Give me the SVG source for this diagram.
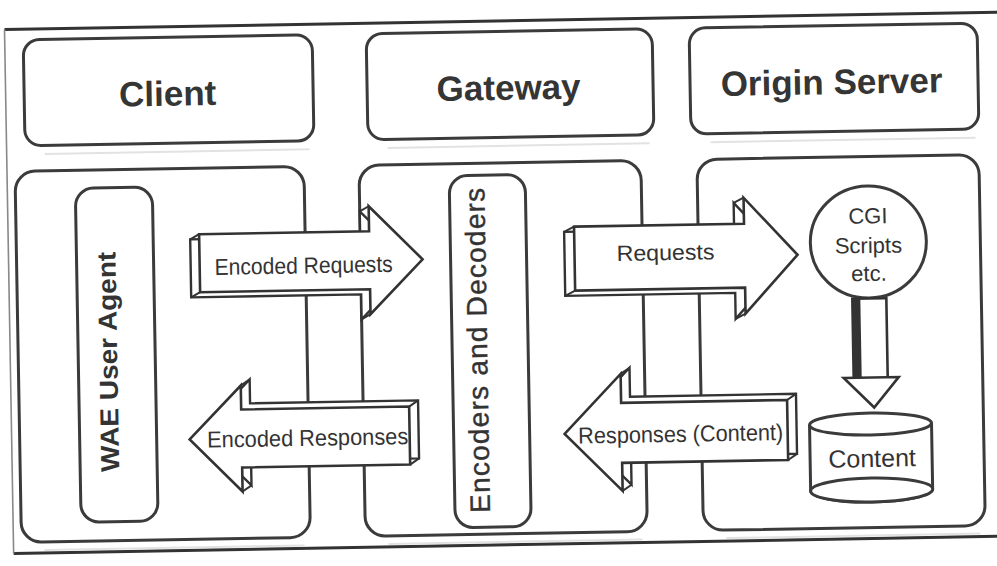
<svg xmlns="http://www.w3.org/2000/svg" width="997" height="566" viewBox="0 0 997 566">
  <defs>
    <style>
      .box{fill:#fff;stroke:#3b3b3b;stroke-width:3}
      .shade{fill:none;stroke:#e2e2e2;stroke-width:2}
      .title{font-family:"Liberation Sans",Arial,Helvetica,sans-serif;font-weight:bold;font-size:35px;fill:#353535;text-anchor:middle}
      .vbold{font-family:"Liberation Sans",Arial,Helvetica,sans-serif;font-weight:bold;font-size:26px;fill:#333;text-anchor:middle}
      .vreg{font-family:"Liberation Sans",Arial,Helvetica,sans-serif;font-size:28px;fill:#333;text-anchor:middle;stroke:#333;stroke-width:0.4}
      .lbl{font-family:"Liberation Sans",Arial,Helvetica,sans-serif;font-size:23px;fill:#333;text-anchor:middle}
      .arrow{fill:#fff;stroke:#333;stroke-width:2.6;stroke-linejoin:miter}
      .depth{fill:#fff;stroke:#333;stroke-width:2.4;stroke-linejoin:miter}
      .edge{fill:none;stroke:#333;stroke-width:2}
    </style>
  </defs>

  <rect width="997" height="566" fill="#fff"/>

  <g transform="rotate(-1 498 283)">
    <!-- outer frame -->
    <g id="frame">
      <path d="M9 21 H1012" fill="none" stroke="#333" stroke-width="3"/>
      <path d="M9 545 H1012" fill="none" stroke="#333" stroke-width="3"/>
      <path d="M9 21 V545" fill="none" stroke="#888" stroke-width="1.6"/>
    </g>

    <!-- header boxes -->
    <g id="client">
      <path class="shade" d="M47 146 H312"/>
      <rect class="box" x="27.5" y="31.5" width="289" height="106" rx="16"/>
      <text class="title" x="171" y="100">Client</text>
    </g>
    <g id="gateway">
      <path class="shade" d="M390 146 H652"/>
      <rect class="box" x="370.5" y="31.5" width="286" height="106" rx="16"/>
      <text class="title" x="512" y="100">Gateway</text>
    </g>
    <g id="origin-server">
      <path class="shade" d="M713 146 H978"/>
      <rect class="box" x="693.5" y="31.5" width="288" height="106" rx="16"/>
      <text class="title" x="835" y="100">Origin Server</text>
    </g>

    <!-- lower panels -->
    <g id="client-panel">
      <path class="shade" d="M40 542 H300"/>
      <rect class="box" x="17" y="163" width="289" height="371" rx="20"/>
    </g>
    <g id="gateway-panel">
      <path class="shade" d="M384 542 H638"/>
      <rect class="box" x="361" y="163" width="282" height="371" rx="20"/>
    </g>
    <g id="origin-panel">
      <path class="shade" d="M722 542 H976"/>
      <rect class="box" x="699" y="163" width="282" height="371" rx="20"/>
    </g>

    <!-- inner components -->
    <g id="wae-user-agent">
      <rect class="box" x="77" y="181" width="77" height="334" rx="18"/>
      <text class="vbold" transform="translate(107 355) rotate(-90)" y="9" textLength="220" lengthAdjust="spacingAndGlyphs">WAE User Agent</text>
    </g>
    <g id="encoders-decoders">
      <rect class="box" x="451" y="175" width="76" height="352" rx="18"/>
      <text class="vreg" transform="translate(476 350) rotate(-90)" y="10" textLength="325" lengthAdjust="spacing">Encoders and Decoders</text>
    </g>
    <g id="cgi-scripts">
      <ellipse class="box" cx="869" cy="248.5" rx="58" ry="56"/>
      <text class="lbl" style="font-size:22px" x="869" y="230">CGI</text>
      <text class="lbl" style="font-size:22px" x="869" y="259.5">Scripts</text>
      <text class="lbl" style="font-size:22px" x="869" y="287.5">etc.</text>
    </g>
    <g id="content">
      <path class="box" d="M807 430.5 V496.5 A61 12 0 0 0 929 496.5 V430.5"/>
      <ellipse class="box" cx="868" cy="496.5" rx="61" ry="12"/>
      <ellipse class="box" cx="868" cy="430.5" rx="61" ry="11"/>
      <text class="lbl" style="font-size:25px" x="869" y="473.5">Content</text>
    </g>

    <!-- connectors: block arrows -->
    <g id="connectors">
      <g id="arrow-encoded-requests">
        <polygon class="depth" points="191,234 361,234 361,209 414,263 361,317 361,292 191,292"/>
        <path class="edge" d="M200 229 L191 234 M200 287 L191 292 M370 204 L361 209 M370 312 L361 317"/>
        <polygon class="arrow" points="200,229 370,229 370,204 423,258 370,312 370,287 200,287"/>
        <text class="lbl" x="304" y="270" textLength="178" lengthAdjust="spacingAndGlyphs">Encoded Requests</text>
      </g>
      <g id="arrow-requests">
        <polygon class="depth" points="565,233 735,233 735,207 788,265 735,323 735,297 565,297"/>
        <path class="edge" d="M575 228 L565 233 M575 292 L565 297 M745 202 L735 207 M745 318 L735 323"/>
        <polygon class="arrow" points="575,228 745,228 745,202 798,260 745,318 745,292 575,292"/>
        <text class="lbl" style="font-size:22px" x="666" y="263" textLength="98" lengthAdjust="spacingAndGlyphs">Requests</text>
      </g>
      <g id="arrow-encoded-responses">
        <polygon class="depth" points="196,428 248,375 248,399 416,399 416,457 248,457 248,481"/>
        <path class="edge" d="M239 381 L248 375 M407 405 L416 399 M407 463 L416 457 M239 487 L248 481"/>
        <polygon class="arrow" points="187,434 239,381 239,405 407,405 407,463 239,463 239,487"/>
        <text class="lbl" x="305" y="442.5" textLength="201" lengthAdjust="spacingAndGlyphs">Encoded Responses</text>
      </g>
      <g id="arrow-responses-content">
        <polygon class="depth" points="571,429 628,370 628,399 794,399 794,459 628,459 628,487"/>
        <path class="edge" d="M619 376 L628 370 M785 405 L794 399 M785 465 L794 459 M619 493 L628 487"/>
        <polygon class="arrow" points="562,435 619,376 619,405 785,405 785,465 619,465 619,493"/>
        <text class="lbl" x="678" y="445" textLength="205" lengthAdjust="spacingAndGlyphs">Responses (Content)</text>
      </g>
      <g id="arrow-cgi-to-content">
        <rect class="arrow" x="852" y="305" width="34" height="80"/>
        <rect x="852" y="305" width="8" height="80" fill="#333"/>
        <polygon class="arrow" stroke-width="3" points="842,384 897,384 872,414"/>
      </g>
    </g>
  </g>
</svg>
